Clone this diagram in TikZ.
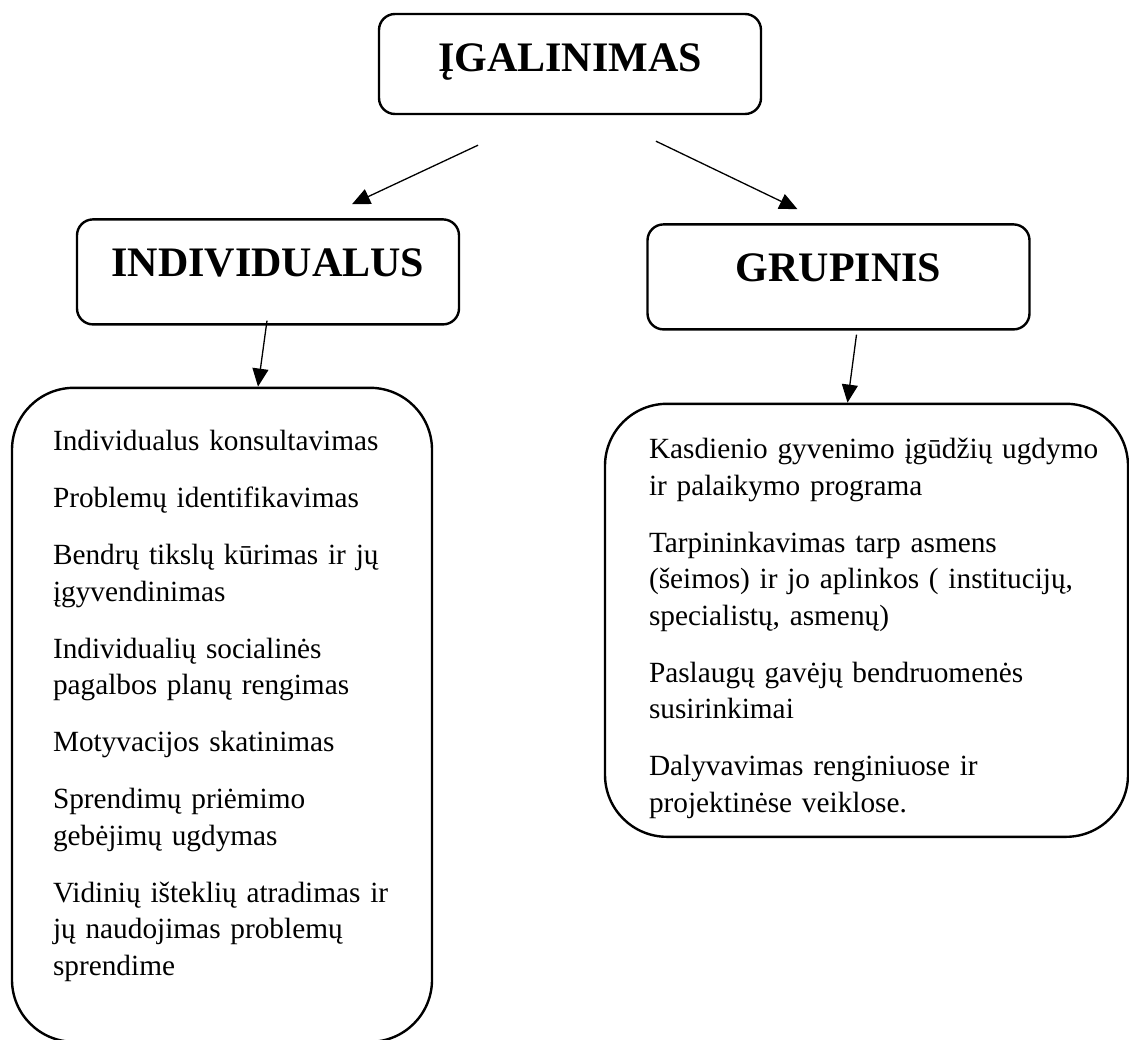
\documentclass[tikz,border=0pt]{standalone}
\usepackage{fontspec}
\setmainfont{Liberation Serif}
\usetikzlibrary{arrows.meta, positioning}

\begin{document}
\begin{tikzpicture}[x=1pt, y=-1pt,
    hbox/.style={rectangle, draw, rounded corners=16pt, line width=2.4pt,
                 minimum width=382pt, inner sep=0pt,
                 text height=57pt, text depth=43pt,
                 font=\fontsize{42}{48}\selectfont\bfseries},
    lbox/.style={rectangle, draw, rounded corners=62pt, line width=2.4pt,
                 inner ysep=0pt, align=left,
                 font=\fontsize{29.3}{36.5}\selectfont},
    arr/.style={-{Triangle[length=18pt, width=16pt]}, line width=1.3pt}
  ]
    \useasboundingbox (0,0) rectangle (1129,1039);

    \node[hbox] (igal) at (570,64) {ĮGALINIMAS};
    \node[hbox, text depth=48pt, below=103pt of igal, xshift=-302pt] (ind) {INDIVIDUALUS};
    \node[hbox, text depth=48pt, below=108pt of igal, xshift=268.5pt] (gru) {GRUPINIS};

    \node[lbox, text width=338pt, inner xsep=41pt, text height=63pt, text depth=591pt,
          below=61pt of ind, xshift=-46pt] (indlist)
      {Individualus konsultavimas\\[20.5pt]
       Problemų identifikavimas\\[20.5pt]
       Bendrų tikslų kūrimas ir jų\\ įgyvendinimas\\[20.5pt]
       Individualių socialinės\\ pagalbos planų rengimas\\[20.5pt]
       Motyvacijos skatinimas\\[20.5pt]
       Sprendimų priėmimo\\ gebėjimų ugdymas\\[20.5pt]
       Vidinių išteklių atradimas ir\\ jų naudojimas problemų\\ sprendime};
    \node[lbox, text width=435pt, inner xsep=44pt, text height=55pt, text depth=378pt,
          below=72pt of gru, xshift=28pt] (grulist)
      {\mbox{Kasdienio gyvenimo įgūdžių ugdymo}\\ ir palaikymo programa\\[20.5pt]
       Tarpininkavimas tarp asmens\\ \makebox[467pt][s]{(šeimos) ir jo aplinkos ( institucijų,}\\ specialistų, asmenų)\\[20.5pt]
       Paslaugų gavėjų bendruomenės\\ susirinkimai\\[20.5pt]
       Dalyvavimas renginiuose ir\\ projektinėse veiklose.};

    \draw[arr] ([xshift=-92pt, yshift=-30pt]igal.south) -- ([xshift=84pt, yshift=14pt]ind.north);
    \draw[arr] ([xshift=86pt, yshift=-26pt]igal.south) -- ([xshift=-41pt, yshift=14pt]gru.north);
    \draw[arr] ([xshift=-1pt, yshift=5pt]ind.south) -- ([xshift=36pt]indlist.north);
    \draw[arr] ([xshift=18pt, yshift=-4pt]gru.south) -- ([xshift=-19pt]grulist.north);
\end{tikzpicture}
\end{document}
